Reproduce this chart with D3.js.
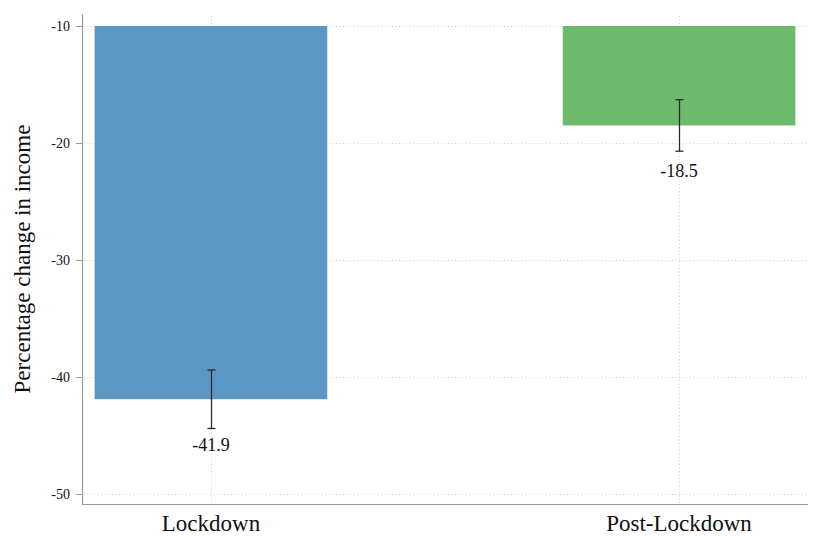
<!DOCTYPE html>
<html>
<head>
<meta charset="utf-8">
<script src="https://cdn.jsdelivr.net/npm/d3@7"></script>
<style>
  html, body { margin: 0; padding: 0; background: #fff; }
  svg { display: block; }
</style>
</head>
<body>
<svg id="chart" width="820" height="536"></svg>
<script>
// Mean percentage change in income with 95% confidence intervals
const categories = ["Lockdown", "Post-Lockdown"];
const means = [-41.9, -18.5];
const ciLow = [-44.4, -20.7];
const ciHigh = [-39.4, -16.3];
const yTicks = [-10, -20, -30, -40, -50];
const barColors = ["#5b97c3", "#6dbb6a"];
const baseValue = -10;

const svg = d3.select("#chart");
const serif = "'Liberation Serif', 'Times New Roman', serif";

const plotLeft = 82, plotRight = 808, plotTop = 14, plotBottom = 504;

const y = d3.scaleLinear().domain([-50, -10]).range([494, 26]);
const x = d3.scaleBand()
  .domain(categories)
  .range([plotLeft, plotRight])
  .paddingInner(0.503)
  .paddingOuter(0.027);

const data = categories.map((c, i) => ({
  cat: c, mean: means[i], lo: ciLow[i], hi: ciHigh[i], color: barColors[i]
}));

// dotted grid
const grid = svg.append("g").attr("stroke", "#cfcfcf").attr("stroke-width", 1)
  .attr("stroke-dasharray", "1,2.5");
grid.selectAll("line.h").data(yTicks).join("line")
  .attr("x1", plotLeft + 2).attr("x2", plotRight)
  .attr("y1", d => y(d) + 0.5).attr("y2", d => y(d) + 0.5);
grid.selectAll("line.v").data(categories).join("line")
  .attr("x1", d => Math.round(x(d) + x.bandwidth() / 2) + 0.5)
  .attr("x2", d => Math.round(x(d) + x.bandwidth() / 2) + 0.5)
  .attr("y1", plotTop + 2).attr("y2", plotBottom - 1);

// bars hang from the top of the scale
svg.append("g").selectAll("rect").data(data).join("rect")
  .attr("x", d => x(d.cat))
  .attr("width", x.bandwidth())
  .attr("y", y(baseValue))
  .attr("height", d => y(d.mean) - y(baseValue))
  .attr("fill", d => d.color);

// confidence intervals
const eb = svg.append("g").attr("stroke", "#2b2b2b").attr("stroke-width", 1.3);
data.forEach(d => {
  const cx = Math.round(x(d.cat) + x.bandwidth() / 2) + 0.5;
  eb.append("line").attr("x1", cx).attr("x2", cx).attr("y1", y(d.hi)).attr("y2", y(d.lo));
  eb.append("line").attr("x1", cx - 4).attr("x2", cx + 4).attr("y1", y(d.hi)).attr("y2", y(d.hi));
  eb.append("line").attr("x1", cx - 4).attr("x2", cx + 4).attr("y1", y(d.lo)).attr("y2", y(d.lo));
});

// value labels
svg.append("g").selectAll("text").data(data).join("text")
  .attr("x", d => x(d.cat) + x.bandwidth() / 2)
  .attr("y", d => y(d.mean) + 52)
  .attr("text-anchor", "middle")
  .attr("font-family", serif)
  .attr("font-size", 18)
  .attr("fill", "#111")
  .text(d => d.mean.toFixed(1));

// y axis
const yAxis = svg.append("g").attr("transform", `translate(${plotLeft},0)`)
  .call(d3.axisLeft(y).tickValues(yTicks).tickSize(6).tickPadding(6).tickFormat(d => String(d)));
yAxis.select(".domain").remove();
yAxis.selectAll(".tick line").attr("stroke", "#9a9a9a");
yAxis.selectAll(".tick text").attr("font-family", serif).attr("font-size", 14).attr("fill", "#111");
svg.append("line").attr("x1", plotLeft + 0.5).attr("x2", plotLeft + 0.5).attr("y1", plotTop).attr("y2", plotBottom)
  .attr("stroke", "#9a9a9a").attr("stroke-width", 1.2);

// x axis
const xAxis = svg.append("g").attr("transform", `translate(0,${plotBottom})`)
  .call(d3.axisBottom(x).tickSize(0).tickPadding(10));
xAxis.select(".domain").remove();
xAxis.selectAll(".tick text").attr("font-family", serif).attr("font-size", 23).attr("fill", "#111")
  .attr("dy", "0.72em");
svg.append("line").attr("x1", plotLeft).attr("x2", plotRight).attr("y1", plotBottom + 0.5).attr("y2", plotBottom + 0.5)
  .attr("stroke", "#9a9a9a").attr("stroke-width", 1.2);

// y title
svg.append("text")
  .attr("transform", `translate(30,${(plotTop + plotBottom) / 2}) rotate(-90)`)
  .attr("text-anchor", "middle")
  .attr("font-family", serif)
  .attr("font-size", 23)
  .attr("fill", "#111")
  .text("Percentage change in income");
</script>
</body>
</html>
